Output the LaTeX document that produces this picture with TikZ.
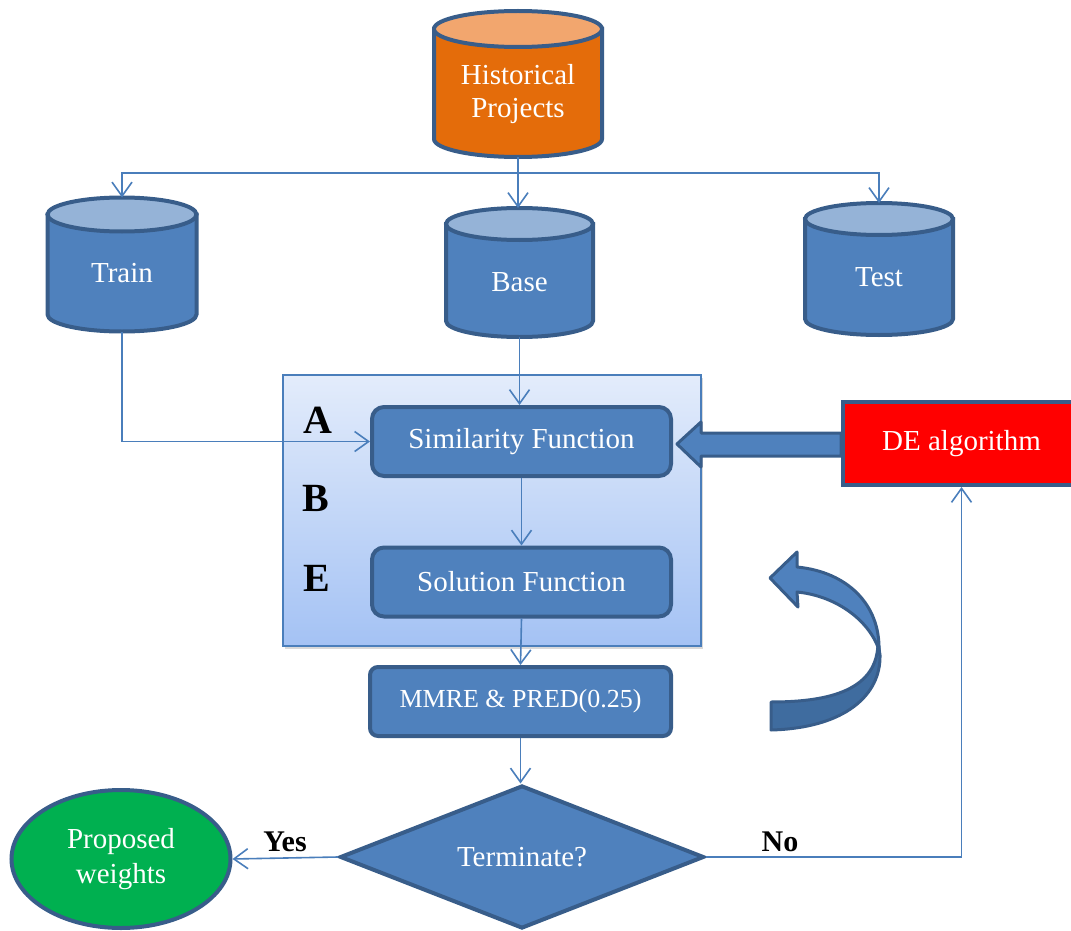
\documentclass[tikz,border=0pt]{standalone}
\usepackage{fontspec}
\setmainfont{Liberation Serif}
\usetikzlibrary{arrows.meta,shapes.geometric,calc,shadows}
\definecolor{boxblue}{HTML}{4F81BD}
\definecolor{edgeblue}{HTML}{385D8A}
\definecolor{lineblue}{HTML}{4A7EBB}
\definecolor{cyltop}{HTML}{95B3D7}
\definecolor{histbody}{HTML}{E46C0A}
\definecolor{histtop}{HTML}{F2A66E}
\definecolor{paneltop}{HTML}{E3ECFB}
\definecolor{panelbot}{HTML}{A4C2F4}
\definecolor{darkribbon}{HTML}{3F6C9F}
\definecolor{greenfill}{HTML}{00B050}
\newcommand{\DrawCyl}[8]{%
  \filldraw[cylline, fill=#7] (#2-#5,#3) -- (#2-#5,#4) arc[start angle=180,end angle=360,x radius=#5pt,y radius=#6pt] -- (#2+#5,#3) -- cycle;
  \filldraw[cylline, fill=#8] (#2,#3) ellipse[x radius=#5pt,y radius=#6pt];
  \coordinate (#1-top) at (#2,#3-#6);
  \coordinate (#1-bot) at (#2,#4+#6);
}
\tikzset{
  cylline/.style={draw=edgeblue, line width=4pt},
  conn/.style={draw=lineblue, line width=1.6pt},
  arr/.style={conn, -{Straight Barb[length=14pt,width=20pt]}},
  lbl/.style={text=white, font=\fontsize{29}{33}\selectfont, align=center},
  proc/.style={rectangle, rounded corners=12pt, fill=boxblue, draw=edgeblue, line width=4pt, minimum width=299pt, minimum height=69pt, lbl},
  letter/.style={font=\fontsize{40}{44}\selectfont\bfseries, inner sep=0pt},
  decision/.style={font=\fontsize{30}{34}\selectfont\bfseries, inner sep=0pt},
  panel/.style={rectangle, minimum width=418pt, minimum height=271pt, top color=paneltop, bottom color=panelbot, draw=lineblue, line width=1.2pt, drop shadow={shadow xshift=2pt, shadow yshift=-3pt, opacity=0.3}},
  ribbon/.style={draw=edgeblue, line width=3pt, line join=round},
}
\begin{document}
\begin{tikzpicture}[x=1pt,y=-1pt]
\useasboundingbox (0,0) rectangle (1071,931);
% cylinders
\DrawCyl{hist}{518}{29}{139}{84}{18}{histbody}{histtop}
\node[lbl] (histtxt) at (518,94) {Historical\\Projects};
\DrawCyl{train}{122}{214.5}{314.5}{74.5}{17}{boxblue}{cyltop}
\node[lbl] (traintxt) at (122,273) {Train};
\DrawCyl{base}{519.5}{224}{321}{73.5}{16}{boxblue}{cyltop}
\node[lbl] (basetxt) at (519.5,282) {Base};
\DrawCyl{test}{879}{219}{319}{74}{16}{boxblue}{cyltop}
\node[lbl] (testtxt) at (879,277) {Test};
\coordinate (split) at (518,173);
% panel
\node[panel] (panel) at (492,510.5) {};
\node[proc] (sim) at (521.5,441.5) {Similarity Function};
\node[proc] (sol) at (521.5,582) {Solution Function};
\node[letter] (la) at (318,420) {A};
\node[letter] (lb) at (316,498) {B};
\node[letter] (le) at (317,578) {E};
\node[proc, rounded corners=8pt, minimum width=301pt, font=\fontsize{26}{30}\selectfont] (mmre) at (520.5,701.5) {MMRE \& PRED(0.25)};
\node[diamond, aspect=2.55, fill=boxblue, draw=edgeblue, line width=4pt, minimum width=364pt, minimum height=143pt, inner sep=0pt, lbl] (term) at (522,857) {Terminate?};
\node[ellipse, fill=greenfill, draw=edgeblue, line width=4pt, minimum width=219pt, minimum height=138pt, lbl, font=\fontsize{29}{35}\selectfont] (prop) at (121,859) {Proposed\\weights};
% block arrow DE -> similarity
\coordinate (bt) at ($(sim.east |- 0,444)+(4,0)$);
\coordinate (dew) at (843,444);
\filldraw[ribbon, fill=boxblue] (bt) -- ++(24,-22) -- ++(0,11) -- ($(dew)+(-2,-11)$) -- ($(dew)+(-2,12)$) -- ($(bt)+(24,12)$) -- ($(bt)+(24,23)$) -- cycle;
\node[rectangle, fill=red, draw=edgeblue, line width=4pt, minimum width=237pt, minimum height=83pt, lbl] (de) at (961.5,443.5) {DE algorithm};
% curved arrow
\filldraw[ribbon, fill=darkribbon] (878,642) .. controls (878,690) and (830,702) .. (771,702) -- (771,730) .. controls (845,728) and (881,695) .. (880,655) -- cycle;
\filldraw[ribbon, fill=boxblue] (797,567) .. controls (848,572) and (880,605) .. (879,650) .. controls (870,622) and (838,596) .. (797,592) -- (798,607) -- (770,578) -- (797,552) -- cycle;
% connectors
\draw[conn] (hist-bot) -- (split);
\draw[arr] (split) -| (train-top);
\draw[arr] (split) -| (test-top);
\draw[arr] (split) -- (split |- base-top);
\draw[arr] (train-bot) |- (sim.west);
\draw[arr] (base-bot) -- (base-bot |- sim.north);
\draw[arr] (sim.south) -- (sol.north);
\draw[arr] (sol.south) -- (mmre.north);
\draw[arr] (mmre.south) -- (mmre.south |- term.north);
\draw[arr] (term.west) -- (prop.east);
\draw[arr] (term.east) -| (de.south);
\node[decision] (yes) at (285,842) {Yes};
\node[decision] (no) at (780,842) {No};
\end{tikzpicture}
\end{document}
